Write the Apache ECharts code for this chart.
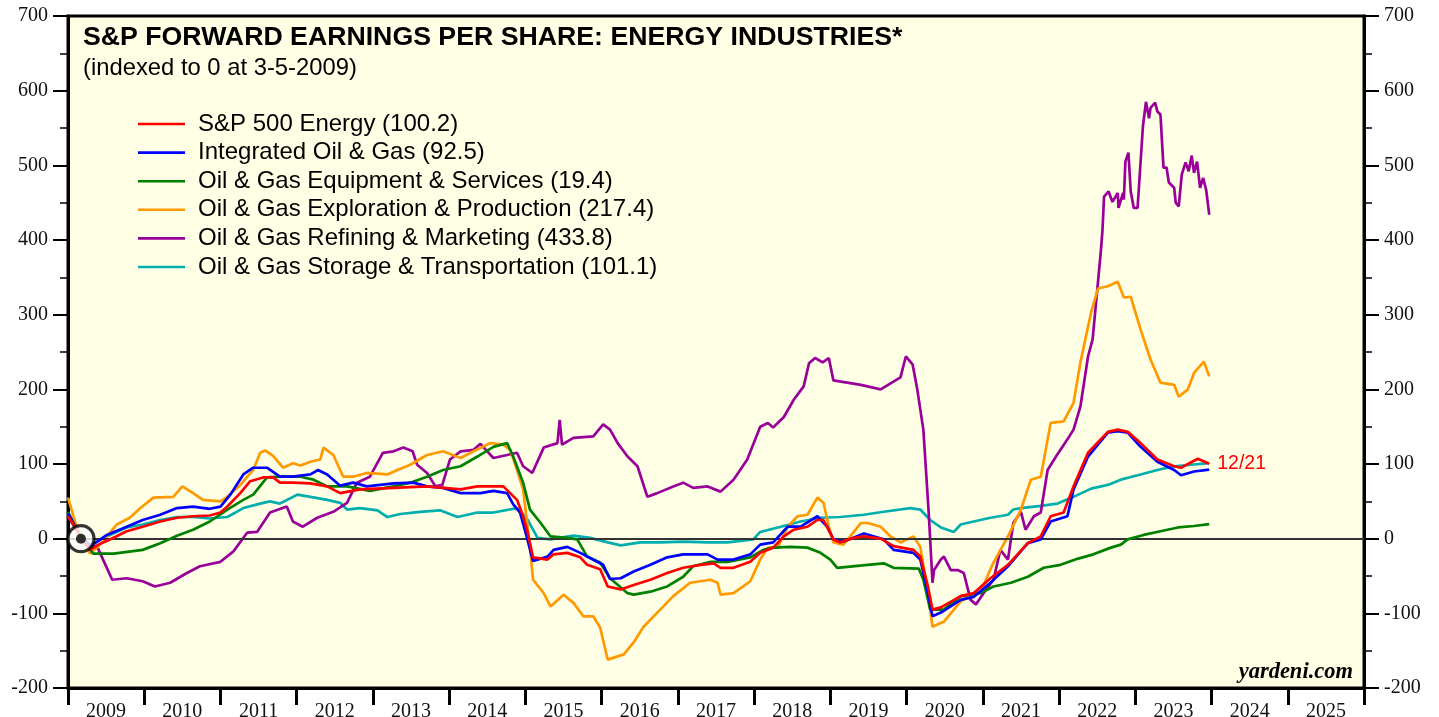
<!DOCTYPE html>
<html>
<head>
<meta charset="utf-8">
<script src="https://cdn.jsdelivr.net/npm/echarts@6/dist/echarts.min.js"></script>
<style>
html,body{margin:0;padding:0;background:#fff;}
#chart{width:1439px;height:717px;}
</style>
</head>
<body>
<div id="chart"></div>
<script>
// ---- Data (decimal year, index value) ----
const years = ['2009','2010','2011','2012','2013','2014','2015','2016','2017','2018','2019','2020','2021','2022','2023','2024','2025'];
const yTicks = { min: -200, max: 700, step: 100 };
const seriesNames = [
  'S&P 500 Energy (100.2)',
  'Integrated Oil & Gas (92.5)',
  'Oil & Gas Equipment & Services (19.4)',
  'Oil & Gas Exploration & Production (217.4)',
  'Oil & Gas Refining & Marketing (433.8)',
  'Oil & Gas Storage & Transportation (101.1)'
];
const endDateLabel = '12/21';
const indexPoint = [2009.17, 0];

const energy = [[2009.00,30],[2009.10,15],[2009.17,0],[2009.29,-15],[2009.40,-8],[2009.55,-1],[2009.77,10],[2009.98,16],[2010.21,23],[2010.43,28],[2010.64,30],[2010.86,31],[2011.00,35],[2011.09,43],[2011.26,61],[2011.39,77],[2011.56,82],[2011.69,82],[2011.78,75],[2011.95,75],[2012.18,74],[2012.40,70],[2012.57,61],[2012.83,66],[2013.27,68],[2013.71,70],[2014.15,66],[2014.37,70],[2014.71,70],[2014.80,61],[2014.89,52],[2014.97,30],[2015.03,8],[2015.10,-25],[2015.29,-28],[2015.37,-21],[2015.55,-19],[2015.72,-25],[2015.81,-35],[2015.98,-41],[2016.08,-64],[2016.25,-68],[2016.42,-62],[2016.64,-55],[2016.86,-46],[2017.07,-39],[2017.30,-35],[2017.47,-33],[2017.56,-39],[2017.73,-39],[2017.95,-31],[2018.08,-19],[2018.25,-12],[2018.39,3],[2018.52,12],[2018.70,16],[2018.83,25],[2018.91,25],[2019.04,-1],[2019.13,-5],[2019.30,1],[2019.44,3],[2019.66,0],[2019.83,-10],[2020.09,-15],[2020.18,-24],[2020.28,-64],[2020.34,-95],[2020.45,-92],[2020.71,-77],[2020.88,-73],[2021.10,-53],[2021.33,-35],[2021.59,-6],[2021.76,3],[2021.89,30],[2022.06,35],[2022.19,70],[2022.38,115],[2022.64,143],[2022.77,146],[2022.90,143],[2023.07,128],[2023.29,106],[2023.51,97],[2023.60,95],[2023.82,107],[2023.97,100.2]];

const integrated = [[2009.00,34],[2009.10,15],[2009.17,0],[2009.29,-10],[2009.40,-3],[2009.51,5],[2009.77,16],[2009.98,25],[2010.21,32],[2010.43,41],[2010.64,43],[2010.86,40],[2011.00,43],[2011.13,59],[2011.30,86],[2011.43,95],[2011.61,95],[2011.78,83],[2011.95,83],[2012.18,86],[2012.28,92],[2012.40,86],[2012.57,71],[2012.74,75],[2012.92,70],[2013.27,74],[2013.53,75],[2013.71,70],[2013.92,68],[2014.15,61],[2014.41,61],[2014.58,64],[2014.76,61],[2014.84,46],[2014.93,35],[2015.00,9],[2015.10,-30],[2015.29,-24],[2015.37,-15],[2015.55,-11],[2015.72,-19],[2015.94,-31],[2016.02,-35],[2016.11,-54],[2016.25,-53],[2016.42,-44],[2016.64,-35],[2016.86,-25],[2017.07,-21],[2017.39,-21],[2017.52,-28],[2017.73,-28],[2017.95,-21],[2018.08,-8],[2018.25,-5],[2018.44,16],[2018.61,16],[2018.83,30],[2018.96,16],[2019.04,-1],[2019.17,-4],[2019.44,7],[2019.70,-1],[2019.83,-15],[2020.09,-19],[2020.18,-28],[2020.28,-73],[2020.34,-104],[2020.45,-99],[2020.71,-82],[2020.88,-78],[2021.10,-59],[2021.33,-37],[2021.59,-6],[2021.76,-1],[2021.89,23],[2022.11,30],[2022.19,66],[2022.38,110],[2022.64,142],[2022.77,144],[2022.90,142],[2023.07,123],[2023.29,103],[2023.51,92],[2023.60,85],[2023.77,90],[2023.97,92.5]];

const equipment = [[2009.00,36],[2009.15,5],[2009.33,-20],[2009.60,-20],[2009.98,-15],[2010.21,-6],[2010.43,4],[2010.64,12],[2010.86,23],[2011.09,39],[2011.30,52],[2011.43,59],[2011.61,82],[2011.78,83],[2012.05,83],[2012.22,79],[2012.40,70],[2012.66,70],[2012.96,64],[2013.27,70],[2013.49,75],[2013.71,83],[2013.92,92],[2014.15,97],[2014.37,110],[2014.58,123],[2014.76,128],[2014.84,110],[2014.97,75],[2015.06,39],[2015.20,21],[2015.33,3],[2015.55,1],[2015.68,-1],[2015.81,-24],[2015.98,-32],[2016.11,-53],[2016.34,-73],[2016.42,-75],[2016.64,-71],[2016.86,-64],[2017.07,-51],[2017.20,-37],[2017.43,-31],[2017.65,-31],[2017.95,-25],[2018.12,-15],[2018.25,-12],[2018.48,-11],[2018.70,-12],[2018.87,-19],[2019.00,-28],[2019.09,-39],[2019.49,-35],[2019.70,-33],[2019.83,-39],[2020.16,-40],[2020.22,-55],[2020.31,-95],[2020.49,-95],[2020.71,-77],[2020.97,-73],[2021.14,-64],[2021.37,-59],[2021.59,-51],[2021.80,-39],[2022.02,-35],[2022.24,-27],[2022.45,-21],[2022.68,-12],[2022.81,-8],[2022.90,-1],[2023.11,5],[2023.33,10],[2023.56,15],[2023.77,17],[2023.97,19.4]];

const exploration = [[2009.00,55],[2009.10,20],[2009.29,-20],[2009.40,-10],[2009.51,3],[2009.64,19],[2009.81,28],[2009.95,41],[2010.12,55],[2010.38,56],[2010.50,70],[2010.64,61],[2010.77,52],[2011.00,50],[2011.09,56],[2011.26,72],[2011.43,92],[2011.52,115],[2011.59,118],[2011.69,111],[2011.82,95],[2011.95,101],[2012.05,98],[2012.18,103],[2012.31,106],[2012.35,122],[2012.48,112],[2012.61,83],[2012.74,83],[2012.92,88],[2013.19,86],[2013.32,92],[2013.49,99],[2013.71,112],[2013.92,117],[2014.15,108],[2014.32,117],[2014.54,128],[2014.71,126],[2014.80,119],[2014.89,92],[2014.97,66],[2015.06,-11],[2015.10,-55],[2015.24,-73],[2015.33,-91],[2015.50,-75],[2015.63,-86],[2015.76,-104],[2015.89,-104],[2015.98,-119],[2016.08,-162],[2016.29,-155],[2016.42,-139],[2016.55,-118],[2016.73,-99],[2016.94,-77],[2017.16,-59],[2017.43,-55],[2017.52,-59],[2017.56,-75],[2017.73,-73],[2017.95,-57],[2018.08,-28],[2018.18,-12],[2018.31,-12],[2018.44,16],[2018.57,30],[2018.70,32],[2018.83,55],[2018.91,48],[2018.98,16],[2019.04,-5],[2019.17,-8],[2019.30,8],[2019.40,21],[2019.49,21],[2019.66,16],[2019.79,3],[2019.92,-5],[2020.09,3],[2020.18,-11],[2020.28,-73],[2020.34,-118],[2020.49,-111],[2020.71,-84],[2020.88,-73],[2021.01,-62],[2021.14,-32],[2021.33,3],[2021.50,39],[2021.63,79],[2021.76,83],[2021.89,155],[2022.06,157],[2022.19,182],[2022.28,236],[2022.42,303],[2022.51,335],[2022.64,338],[2022.77,344],[2022.85,323],[2022.94,324],[2023.07,280],[2023.20,240],[2023.33,209],[2023.51,206],[2023.57,190],[2023.69,200],[2023.77,222],[2023.90,237],[2023.97,217.4]];

const refining = [[2009.00,30],[2009.15,5],[2009.29,-10],[2009.38,-10],[2009.46,-28],[2009.58,-55],[2009.77,-53],[2009.98,-57],[2010.14,-64],[2010.34,-59],[2010.56,-46],[2010.73,-37],[2011.00,-31],[2011.17,-17],[2011.35,8],[2011.48,9],[2011.65,35],[2011.87,43],[2011.95,23],[2012.08,16],[2012.27,28],[2012.48,36],[2012.66,48],[2012.79,75],[2012.96,83],[2013.13,115],[2013.27,117],[2013.40,122],[2013.52,117],[2013.58,99],[2013.71,88],[2013.82,70],[2013.91,72],[2014.01,106],[2014.15,117],[2014.32,119],[2014.41,127],[2014.58,108],[2014.76,112],[2014.89,115],[2014.97,97],[2015.09,88],[2015.24,122],[2015.42,128],[2015.45,159],[2015.48,126],[2015.63,135],[2015.89,137],[2016.02,153],[2016.11,146],[2016.21,128],[2016.34,110],[2016.47,97],[2016.60,56],[2016.73,61],[2016.94,70],[2017.07,75],[2017.20,68],[2017.39,70],[2017.56,63],[2017.73,79],[2017.91,106],[2018.08,150],[2018.18,155],[2018.25,149],[2018.39,163],[2018.52,186],[2018.65,204],[2018.72,235],[2018.80,242],[2018.90,236],[2018.98,242],[2019.04,212],[2019.40,206],[2019.66,200],[2019.92,216],[2019.99,244],[2020.08,233],[2020.14,200],[2020.22,146],[2020.29,35],[2020.34,-59],[2020.36,-42],[2020.45,-28],[2020.49,-24],[2020.58,-42],[2020.67,-42],[2020.75,-46],[2020.84,-82],[2020.91,-88],[2021.01,-73],[2021.14,-55],[2021.23,-15],[2021.33,-28],[2021.40,21],[2021.50,36],[2021.56,12],[2021.67,30],[2021.76,35],[2021.85,92],[2021.96,110],[2022.11,133],[2022.19,146],[2022.28,177],[2022.38,244],[2022.44,267],[2022.51,343],[2022.55,387],[2022.57,414],[2022.59,458],[2022.65,465],[2022.70,451],[2022.77,463],[2022.78,443],[2022.84,463],[2022.85,454],[2022.87,505],[2022.91,517],[2022.94,465],[2022.98,443],[2023.03,443],[2023.10,552],[2023.14,585],[2023.18,563],[2023.20,577],[2023.26,584],[2023.29,572],[2023.33,568],[2023.37,497],[2023.41,497],[2023.44,477],[2023.51,470],[2023.53,450],[2023.57,445],[2023.61,488],[2023.66,504],[2023.70,492],[2023.74,513],[2023.77,490],[2023.81,505],[2023.85,470],[2023.89,483],[2023.93,467],[2023.97,433.8]];

const storage = [[2009.00,34],[2009.15,5],[2009.29,-8],[2009.55,5],[2009.77,15],[2009.98,19],[2010.21,25],[2010.43,29],[2010.64,29],[2010.86,27],[2011.09,29],[2011.30,41],[2011.52,47],[2011.65,50],[2011.78,47],[2012.01,59],[2012.18,56],[2012.40,52],[2012.57,48],[2012.66,39],[2012.83,41],[2013.06,38],[2013.19,29],[2013.36,33],[2013.62,36],[2013.88,38],[2014.11,29],[2014.37,35],[2014.58,35],[2014.89,41],[2015.03,25],[2015.16,1],[2015.33,-1],[2015.63,4],[2015.85,1],[2016.08,-5],[2016.25,-9],[2016.51,-5],[2016.77,-5],[2017.07,-4],[2017.39,-5],[2017.65,-5],[2017.99,-1],[2018.08,9],[2018.35,16],[2018.61,23],[2018.87,28],[2019.13,29],[2019.44,32],[2019.70,36],[2020.05,41],[2020.18,39],[2020.31,25],[2020.45,15],[2020.62,9],[2020.71,19],[2020.88,23],[2021.10,28],[2021.33,32],[2021.40,39],[2021.50,41],[2021.76,44],[2021.98,47],[2022.19,56],[2022.42,67],[2022.64,72],[2022.81,79],[2023.07,86],[2023.29,92],[2023.51,97],[2023.73,99],[2023.97,101.1]];

const seriesData = [energy, integrated, equipment, exploration, refining, storage];
const colors = ['#FF0000', '#0000FF', '#008000', '#FF9900', '#990099', '#00AEAE'];

// ---- Chart ----
const chart = echarts.init(document.getElementById('chart'), null, { renderer: 'canvas' });
const serif = '"Liberation Serif", "Times New Roman", serif';
const sans = '"Liberation Sans", Arial, sans-serif';

function yAxisDef(pos) {
  return {
    type: 'value', position: pos,
    min: yTicks.min, max: yTicks.max, interval: yTicks.step,
    axisLine: { show: true, onZero: false, lineStyle: { color: '#000', width: 3 } },
    axisTick: { show: true, inside: false, length: 15, lineStyle: { color: '#000', width: 2 } },
    minorTick: { show: true, splitNumber: 2, length: 8, lineStyle: { color: '#000', width: 1.5 } },
    splitLine: { show: false },
    axisLabel: { margin: 20, color: '#111', fontFamily: serif, fontSize: 20 }
  };
}

const lineSeries = seriesNames.map((name, i) => {
  const s = {
    name: name, type: 'line', xAxisIndex: 1, yAxisIndex: 0,
    data: seriesData[i], symbol: 'none', showSymbol: false,
    lineStyle: { color: colors[i], width: 2.7 }, itemStyle: { color: colors[i] },
    animation: false
  };
  if (i === 0) {
    s.endLabel = { show: true, formatter: endDateLabel, color: '#FF0000', fontFamily: sans, fontSize: 19.5, distance: 8 };
    s.markLine = {
      silent: true, symbol: ['none', 'none'], animation: false,
      label: { show: false },
      lineStyle: { color: '#333', width: 2, type: 'solid' },
      data: [{ yAxis: 0 }]
    };
  }
  return s;
});
// draw order: storage and refining beneath the majors
const zOrder = [7, 6, 5, 4, 3, 2];
lineSeries.forEach((s, i) => { s.z = zOrder[i]; });

const option = {
  animation: false,
  backgroundColor: '#ffffff',
  title: {
    text: 'S&P FORWARD EARNINGS PER SHARE: ENERGY INDUSTRIES*',
    subtext: '(indexed to 0 at 3-5-2009)',
    left: 83, top: 25, padding: 0, itemGap: 4,
    textStyle: { fontFamily: sans, fontSize: 26.7, fontWeight: 'bold', color: '#000', lineHeight: 26 },
    subtextStyle: { fontFamily: sans, fontSize: 23.8, color: '#000', lineHeight: 24 }
  },
  legend: {
    orient: 'vertical', left: 138, top: 112, padding: 0,
    icon: 'rect', itemWidth: 47, itemHeight: 2.6, itemGap: 4.6,
    textStyle: { fontFamily: sans, fontSize: 24, lineHeight: 24, color: '#000', padding: [0, 0, 0, 8] },
    data: seriesNames,
    selectedMode: false
  },
  grid: {
    left: 68, right: 75, top: 16, bottom: 29,
    outerBoundsMode: 'none', containLabel: false,
    show: true, backgroundColor: '#FFFFE5', borderColor: '#000', borderWidth: 3
  },
  xAxis: [
    {
      type: 'category', data: years, boundaryGap: true, position: 'bottom',
      axisLine: { show: true, onZero: false, lineStyle: { color: '#000', width: 3 } },
      axisTick: { show: true, inside: false, length: 17, interval: 0, alignWithLabel: false, lineStyle: { color: '#000', width: 3 } },
      axisLabel: { interval: 0, margin: 14, color: '#111', fontFamily: serif, fontSize: 20 },
      splitLine: { show: false }
    },
    {
      type: 'value', min: 2009, max: 2026, show: false, position: 'top',
      axisLine: { onZero: false },
      splitLine: { show: false }
    }
  ],
  yAxis: [yAxisDef('left'), yAxisDef('right')],
  series: lineSeries.concat([
    {
      type: 'scatter', xAxisIndex: 1, yAxisIndex: 0, data: [indexPoint],
      symbol: 'circle', symbolSize: 26, z: 20, silent: true,
      itemStyle: { color: '#ffffff', borderColor: '#000', borderWidth: 3.2 }
    },
    {
      type: 'scatter', xAxisIndex: 1, yAxisIndex: 0, data: [indexPoint],
      symbol: 'circle', symbolSize: 10, z: 21, silent: true,
      itemStyle: { color: '#000' }
    }
  ]),
  graphic: [
    {
      type: 'text', right: 86, top: 661, z: 50,
      style: { text: 'yardeni.com', font: 'italic bold 22.5px "Liberation Serif", serif', fill: '#000' }
    }
  ]
};
chart.setOption(option);
</script>
</body>
</html>
